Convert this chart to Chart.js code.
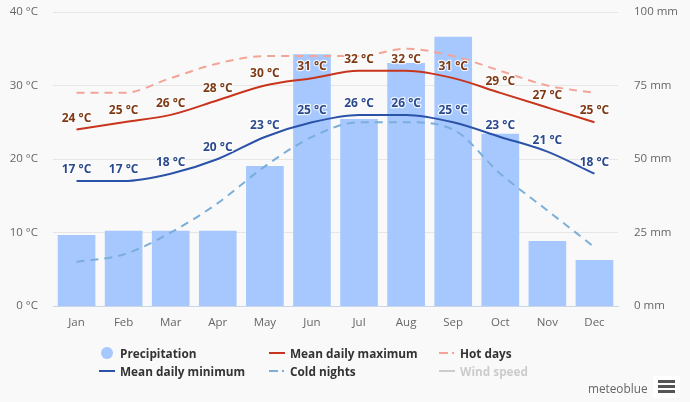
<!DOCTYPE html>
<html>
<head>
<meta charset="utf-8">
<script src="https://cdn.jsdelivr.net/npm/chart.js@4"></script>
<style>
    html, body { margin: 0; padding: 0; background: #f9f9f9; }
    #wrap { position: relative; width: 690px; height: 402px; overflow: hidden; font-family: "Open Sans", sans-serif; }
    canvas { display: block; }
    .item { position: absolute; font-size: 11.8px; font-weight: bold; color: #333; line-height: 14px; white-space: nowrap; }
    .mark { position: absolute; }
    #menuBox { position: absolute; left: 653px; top: 376px; width: 27px; height: 22px; background: #fff; }
    #brand { position: absolute; left: 588px; top: 380px; font-size: 11.8px; color: #666; }
    #menu { position: absolute; left: 658px; top: 380px; width: 17px; height: 14px; }
    #menu div { height: 3px; background: #555; margin-bottom: 2px; }
</style>
</head>
<body>
<div id="wrap">
    <canvas id="climateChart" width="690" height="402"></canvas>
    <div id="legend"></div>
    <div id="brand">meteoblue</div>
    <div id="menuBox"></div>
    <div id="menu"><div></div><div></div><div></div></div>
</div>
<script>
const months = ["Jan", "Feb", "Mar", "Apr", "May", "Jun", "Jul", "Aug", "Sep", "Oct", "Nov", "Dec"];
const precipitation = [24, 25.5, 25.5, 25.5, 47.5, 85.5, 63.5, 82.5, 91.5, 58.5, 22, 15.5];
const meanMax = [24, 25, 26, 28, 30, 31, 32, 32, 31, 29, 27, 25];
const meanMin = [17, 17, 18, 20, 23, 25, 26, 26, 25, 23, 21, 18];
const hotDays = [29, 29, 31, 33, 34, 34, 34, 35, 34, 32, 30, 29];
const coldNights = [6, 7, 10, 14, 19, 23, 25, 25, 24, 18, 13, 8];

const FONT = '"Open Sans", sans-serif';

// angka di atas garis rata-rata, pakai halo putih seperti aslinya
const valueLabels = {
    id: "valueLabels",
    afterDatasetsDraw(chart) {
        const ctx = chart.ctx;
        ctx.save();
        ctx.font = "bold 12px " + FONT;
        ctx.textAlign = "center";
        ctx.textBaseline = "middle";
        ctx.lineJoin = "round";
        chart.data.datasets.forEach((ds, i) => {
            if (!ds.labelColor) return;
            chart.getDatasetMeta(i).data.forEach((pt, j) => {
                const text = ds.data[j] + " °C";
                ctx.strokeStyle = "rgba(255,255,255,0.8)";
                ctx.lineWidth = 2.5;
                ctx.strokeText(text, pt.x, pt.y - 11.5);
                ctx.fillStyle = ds.labelColor;
                ctx.fillText(text, pt.x, pt.y - 11.5);
            });
        });
        ctx.restore();
    }
};

const lineSet = (label, data, color, dash, labelColor) => ({
    type: "line",
    label: label,
    data: data,
    yAxisID: "temp",
    borderColor: color,
    borderWidth: 2,
    borderDash: dash,
    cubicInterpolationMode: "monotone",
    pointRadius: 0,
    labelColor: labelColor,
    order: 1
});

// lebar sumbu dikunci supaya area plot sama dengan gambar asli
const fixAxis = (width) => (axis) => {
    axis.width = width;
    axis.paddingTop = 0;
    axis.paddingBottom = 0;
};

new Chart(document.getElementById("climateChart"), {
    data: {
        labels: months,
        datasets: [
            {
                type: "bar",
                label: "Precipitation",
                data: precipitation,
                yAxisID: "rain",
                backgroundColor: "#a6c8ff",
                barThickness: 37,
                order: 2
            },
            lineSet("Hot days", hotDays, "#f4a497", [8, 6]),
            lineSet("Cold nights", coldNights, "#7baed8", [8, 6]),
            lineSet("Mean daily maximum", meanMax, "#c8351c", [], "#7d3a14"),
            lineSet("Mean daily minimum", meanMin, "#2a52a8", [], "#2b4a8e")
        ]
    },
    options: {
        responsive: false,
        animation: false,
        devicePixelRatio: 1,
        layout: { padding: { top: 12, left: 0, right: 0, bottom: 0 } },
        plugins: { legend: { display: false }, tooltip: { enabled: false } },
        scales: {
            x: {
                grid: { display: false },
                border: { color: "#ccd6eb" },
                ticks: { color: "#666", font: { family: FONT, size: 11.5 }, padding: 2, maxRotation: 0 },
                afterFit: (axis) => { axis.height = 96; }
            },
            temp: {
                position: "left",
                min: 0,
                max: 40,
                grid: { color: "#e6e6e6", drawTicks: false },
                border: { display: false },
                ticks: {
                    stepSize: 10,
                    padding: 15,
                    color: "#666",
                    font: { family: FONT, size: 11.5 },
                    callback: (v) => v + " °C"
                },
                afterFit: fixAxis(53)
            },
            rain: {
                position: "right",
                min: 0,
                max: 100,
                grid: { display: false },
                border: { display: false },
                ticks: {
                    stepSize: 25,
                    padding: 8,
                    color: "#666",
                    font: { family: FONT, size: 11.5 },
                    callback: (v) => v + " mm"
                },
                afterFit: fixAxis(72)
            }
        }
    },
    plugins: [valueLabels]
});

// legenda dua baris: [teks, warna, jenis, x teks, y tengah]
const legendItems = [
    ["Precipitation", "#a6c8ff", "dot", 120, 353],
    ["Mean daily maximum", "#c8351c", "line", 290, 353],
    ["Hot days", "#f4a497", "dash", 460, 353],
    ["Mean daily minimum", "#2a52a8", "line", 120, 371],
    ["Cold nights", "#7baed8", "dash", 290, 371],
    ["Wind speed", "#ccc", "line", 460, 371]
];

const legend = document.getElementById("legend");
legendItems.forEach(([text, color, kind, x, y]) => {
    const label = document.createElement("div");
    label.className = "item";
    label.textContent = text;
    label.style.left = x + "px";
    label.style.top = y - 7 + "px";
    if (color === "#ccc") label.style.color = "#ccc";
    legend.appendChild(label);

    const mark = document.createElement("div");
    mark.className = "mark";
    if (kind === "dot") {
        mark.style.cssText = `left:${x - 19}px;top:${y - 6}px;width:12px;height:12px;border-radius:50%;background:${color}`;
    } else if (kind === "line") {
        mark.style.cssText = `left:${x - 21}px;top:${y - 1}px;width:16px;height:2px;background:${color}`;
    } else {
        mark.style.cssText = `left:${x - 21}px;top:${y - 1}px;width:16px;height:2px;background:linear-gradient(to right, ${color} 9px, transparent 9px, transparent 13px, ${color} 13px, ${color} 15px, transparent 15px)`;
    }
    legend.appendChild(mark);
});
</script>
</body>
</html>
